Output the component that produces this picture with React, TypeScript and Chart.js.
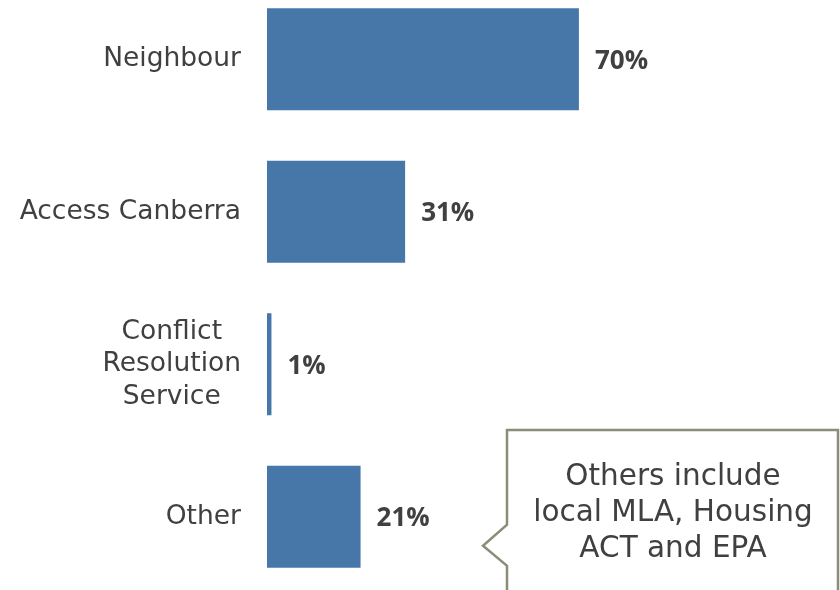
import React, { useEffect, useRef } from "react";
import { Chart, registerables } from "chart.js";

Chart.register(...registerables);

const categories: (string | string[])[] = [
  "Neighbour",
  "Access Canberra",
  ["Conflict", "Resolution", "Service"],
  "Other",
];
const values: number[] = [70, 31, 1, 21];
const valueLabels: string[] = ["70%", "31%", "1%", "21%"];
const calloutLines: string[] = ["Others include", "local MLA, Housing", "ACT and EPA"];

const BAR_COLOR = "#4677A8";
const TEXT_COLOR = "#404040";
const LABEL_FONT = "DejaVu Sans";
const LABEL_SIZE = 26.5;
const LABEL_LINE = 32.5;
const VALUE_FONT = "Open Sans";
const OFFSET_TOP = 17;
const TICK_PADDING = 26;

const isMultiLine = (i: number) => Array.isArray(categories[i]);

const valueLabelPlugin = {
  id: "valueLabels",
  afterDatasetsDraw(chart: any) {
    const ctx = chart.ctx;
    const meta = chart.getDatasetMeta(0);
    ctx.save();
    ctx.fillStyle = TEXT_COLOR;
    ctx.font = `bold 26px "${VALUE_FONT}"`;
    ctx.textAlign = "left";
    ctx.textBaseline = "middle";
    meta.data.forEach((bar: any, i: number) => {
      ctx.fillText(valueLabels[i], bar.x + 16, bar.y + 2);
    });
    ctx.restore();
  },
};

// multi-line category labels: block right-aligned to the axis, lines centred in the block
const centeredLabelPlugin = {
  id: "centeredLabels",
  afterDraw(chart: any) {
    const ctx = chart.ctx;
    const scale = chart.scales.y;
    ctx.save();
    ctx.fillStyle = TEXT_COLOR;
    ctx.font = `${LABEL_SIZE}px "${LABEL_FONT}"`;
    ctx.textBaseline = "middle";
    ctx.textAlign = "center";
    categories.forEach((cat, i) => {
      if (!Array.isArray(cat)) return;
      const widest = Math.max(...cat.map((l) => ctx.measureText(l).width));
      const cx = scale.right - TICK_PADDING - widest / 2;
      const cy = scale.getPixelForValue(i);
      const n = cat.length;
      cat.forEach((line, j) => {
        ctx.fillText(line, cx, cy + (j - (n - 1) / 2) * LABEL_LINE);
      });
    });
    ctx.restore();
  },
};

const calloutPlugin = {
  id: "callout",
  afterDraw(chart: any) {
    const ctx = chart.ctx;
    const meta = chart.getDatasetMeta(0);
    const otherBar: any = meta.data[3];
    const tipY = otherBar.y + 29;
    const left = 507;
    const top = 430 + OFFSET_TOP;
    const right = 838;
    const bottom = chart.height + 20;
    const tipX = 483;
    ctx.save();
    ctx.strokeStyle = "#8C8C7A";
    ctx.lineWidth = 2.5;
    ctx.fillStyle = "#FFFFFF";
    ctx.beginPath();
    ctx.moveTo(left, bottom);
    ctx.lineTo(left, tipY + 20);
    ctx.lineTo(tipX, tipY);
    ctx.lineTo(left, tipY - 21);
    ctx.lineTo(left, top);
    ctx.lineTo(right, top);
    ctx.lineTo(right, bottom);
    ctx.closePath();
    ctx.fill();
    ctx.stroke();
    ctx.fillStyle = TEXT_COLOR;
    ctx.font = `29.5px "${LABEL_FONT}"`;
    ctx.textAlign = "center";
    ctx.textBaseline = "middle";
    calloutLines.forEach((line, i) => {
      ctx.fillText(line, 673, top + 47 + i * 36);
    });
    ctx.restore();
  },
};

export default function App() {
  const canvasRef = useRef<HTMLCanvasElement | null>(null);

  useEffect(() => {
    if (!canvasRef.current) return;
    const chart = new Chart(canvasRef.current, {
      type: "bar",
      data: {
        labels: categories,
        datasets: [
          {
            data: values,
            backgroundColor: BAR_COLOR,
            barPercentage: 0.669,
            categoryPercentage: 1,
          },
        ],
      },
      options: {
        indexAxis: "y",
        animation: false,
        responsive: true,
        maintainAspectRatio: false,
        layout: { padding: 0 },
        plugins: {
          legend: { display: false },
          tooltip: { enabled: false },
        },
        scales: {
          x: {
            display: false,
            min: 0,
            max: 128.6,
          },
          y: {
            grid: { display: false, drawTicks: false },
            border: { display: false },
            ticks: {
              padding: TICK_PADDING,
              color: (c: any) => (isMultiLine(c.index) ? "rgba(0,0,0,0)" : TEXT_COLOR),
              font: { family: LABEL_FONT, size: LABEL_SIZE, lineHeight: LABEL_LINE / LABEL_SIZE },
            },
            afterFit(scale: any) {
              scale.width = 267;
              scale.paddingTop = 0;
              scale.paddingBottom = 0;
            },
          },
        },
      },
      plugins: [valueLabelPlugin, centeredLabelPlugin, calloutPlugin],
    });
    return () => chart.destroy();
  }, []);

  return (
    <div
      style={{
        position: "fixed",
        left: 0,
        top: 0,
        width: 840,
        height: 590,
        overflow: "hidden",
        background: "#FFFFFF",
      }}
    >
      <div
        style={{
          position: "absolute",
          left: 0,
          top: -OFFSET_TOP,
          width: 840,
          height: 610,
        }}
      >
        <canvas ref={canvasRef} />
      </div>
    </div>
  );
}
